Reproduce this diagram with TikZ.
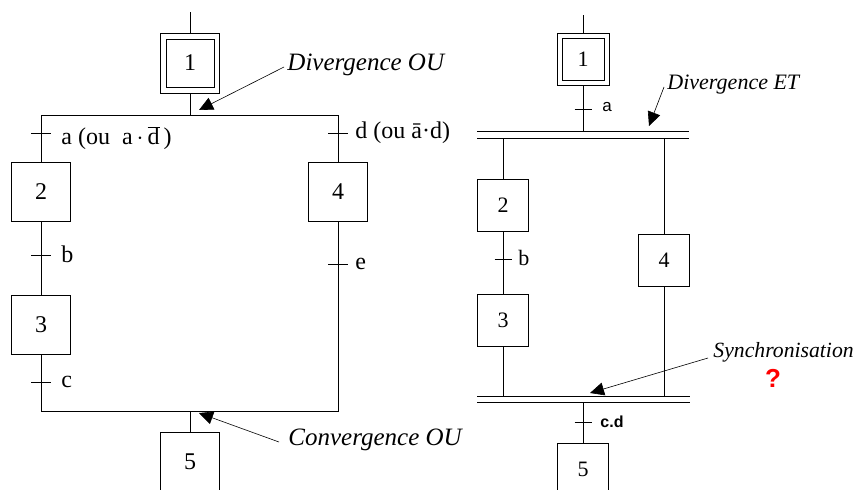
\documentclass[tikz,border=0pt]{standalone}
\usepackage{fontspec}
\setmainfont{Liberation Serif}
\newfontfamily\arialf{Liberation Sans}
\usetikzlibrary{arrows.meta}
\begin{document}
\begin{tikzpicture}[x=1pt,y=-1pt,line width=0.9pt,
 stepbox/.style={draw,inner sep=0pt,minimum width=59pt,minimum height=59pt,font=\fontsize{24}{24}\selectfont},
 smallstep/.style={draw,inner sep=0pt,minimum width=51pt,minimum height=52pt,font=\fontsize{22}{22}\selectfont},
 lab/.style={anchor=west,inner sep=0pt,font=\fontsize{24}{24}\selectfont},
 slab/.style={anchor=west,inner sep=0pt,font=\arialf\fontsize{17}{17}\selectfont},
 note/.style={anchor=west,inner sep=0pt,font=\itshape\fontsize{25}{25}\selectfont},
 rnote/.style={anchor=west,inner sep=0pt,font=\itshape\fontsize{22}{22}\selectfont},
 callout/.style={line width=0.6pt,-{Triangle[length=14pt,width=13pt]}},
]
\useasboundingbox (0,0) rectangle (855,490);
\clip (0,0) rectangle (855,490);

% ---------------- Left: divergence OU ----------------
\coordinate (Ltop) at (190,12);
\node[stepbox,minimum width=59pt,minimum height=60pt] (L1) at (190,63) {};
\node[stepbox,minimum width=48pt,minimum height=48pt] (L1i) at (190,63) {1};
\coordinate (Lj) at (190,115);
\coordinate (LdL) at (41,115);
\coordinate (LdR) at (338,115);
\node[stepbox] (L2) at (41,191.5) {2};
\node[stepbox] (L3) at (41,325) {3};
\node[stepbox] (L4) at (338,191.5) {4};
\coordinate (LcL) at (41,411);
\coordinate (LcR) at (338,411);
\coordinate (Lk) at (190,411);
\node[stepbox,minimum height=70pt,anchor=north] (L5) at (190,432) {};
\node[font=\fontsize{24}{24}\selectfont] (L5t) at (190,461.5) {5};

\draw (Ltop) -- (L1.north);
\draw (L1.south) -- (Lj);
\draw (LdL) -- (LdR);
\draw (LdL) -- (L2.north);
\draw (LdR) -- (L4.north);
\draw (L2.south) -- (L3.north);
\draw (L3.south) -- (LcL) -- (LcR) -- (L4.south);
\draw (Lk) -- (L5.north);

% transitions
\coordinate (tA) at (41,133);
\coordinate (tD) at (338,133);
\coordinate (tB) at (41,255);
\coordinate (tC) at (41,382);
\coordinate (tE) at (338,264);
\foreach \t in {tA,tD,tB,tC,tE}{\draw ([xshift=-10pt]\t) -- ([xshift=10pt]\t);}
\node[lab] (lA) at (61,138) {a (ou\ \ a\,$\cdot$\,$\overline{\hbox{d}}$\,)};
\node[lab] (lD) at (355,133) {d (ou ā·d)};
\node[lab] (lB) at (61,254) {b};
\node[lab] (lC) at (61,382) {c};
\node[lab] (lE) at (355,264) {e};

% notes
\node[note] (nDO) at (287,65) {Divergence OU};
\coordinate (aDO) at (199,110);
\draw[callout] (nDO.west) ++(-3,2) -- (aDO);
\node[note] (nCO) at (288,440) {Convergence OU};
\coordinate (aCO) at (199,413);
\draw[callout] (nCO.west) ++(-9,2) -- (aCO);

% ---------------- Right: divergence ET ----------------
\coordinate (Rtop) at (583,15);
\node[smallstep,minimum width=52pt,minimum height=52pt] (R1) at (583,59) {};
\node[smallstep,minimum width=42pt,minimum height=42pt] (R1i) at (583,59) {1};
\coordinate (Rj) at (583,131);
\coordinate (RbA1) at (477,131);
\coordinate (RbA2) at (689,131);
\coordinate (RbB1) at (477,138);
\coordinate (RbB2) at (689,138);
\coordinate (RsL) at (503,138);
\coordinate (RsR) at (664,138);
\node[smallstep] (R2) at (503,205) {2};
\node[smallstep] (R3) at (503,320.5) {3};
\node[smallstep] (R4) at (664,260) {4};
\coordinate (RcA1) at (477,396);
\coordinate (RcA2) at (690,396);
\coordinate (RcB1) at (477,402);
\coordinate (RcB2) at (690,402);
\coordinate (RcL) at (503,396);
\coordinate (RcR) at (664,396);
\coordinate (Rk) at (583,402);
\node[smallstep,minimum height=70pt,anchor=north] (R5) at (583,443) {};
\node[font=\fontsize{22}{22}\selectfont] (R5t) at (583,469) {5};

\draw (Rtop) -- (R1.north);
\draw (R1.south) -- (Rj);
\draw (RbA1) -- (RbA2);
\draw (RbB1) -- (RbB2);
\draw (RsL) -- (R2.north);
\draw (RsR) -- (R4.north);
\draw (R2.south) -- (R3.north);
\draw (R3.south) -- (RcL);
\draw (R4.south) -- (RcR);
\draw (RcA1) -- (RcA2);
\draw (RcB1) -- (RcB2);
\draw (Rk) -- (R5.north);

\coordinate (ta) at (583,109);
\coordinate (tb) at (503,259);
\coordinate (tcd) at (583,422);
\foreach \t in {ta,tb,tcd}{\draw ([xshift=-8.5pt]\t) -- ([xshift=8.5pt]\t);}
\node[slab] (la) at (602,107) {a};
\node[lab,font=\fontsize{22}{22}\selectfont] (lb) at (518,258) {b};
\node[slab,font=\arialf\bfseries\fontsize{16}{16}\selectfont] (lcd) at (600,422) {c.d};

\node[rnote] (nDE) at (667,85) {Divergence ET};
\coordinate (aDE) at (649,126);
\draw[callout] (nDE.west) ++(-3,2) -- (aDE);
\node[rnote,font=\itshape\fontsize{21.7}{21.7}\selectfont] (nSy) at (713,352) {Synchronisation};
\coordinate (aSy) at (590,393);
\draw[callout] (nSy.west) ++(-5,6) -- (aSy);
\node[text=red,font=\arialf\bfseries\fontsize{26}{26}\selectfont] (q) at (773,378) {?};
\end{tikzpicture}
\end{document}
